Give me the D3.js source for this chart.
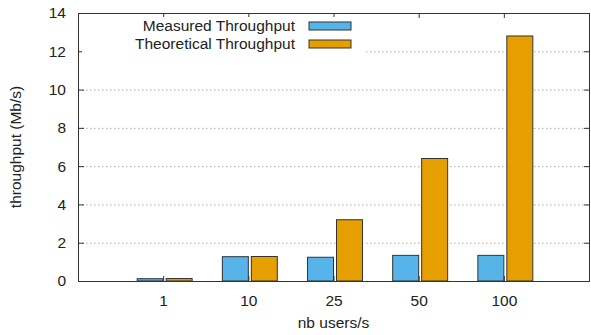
<!DOCTYPE html>
<html>
<head>
<meta charset="utf-8">
<script src="https://cdn.jsdelivr.net/npm/d3@7"></script>
<style>
  body { margin: 0; background: #fff; }
  text { font-family: "Liberation Sans", Arial, sans-serif; fill: #222; }
</style>
</head>
<body>
<div id="chart"></div>
<script>
// data
const categories = ['1', '10', '25', '50', '100'];
const measured = [0.12, 1.27, 1.24, 1.34, 1.34];
const theoretical = [0.128, 1.28, 3.2, 6.4, 12.8];
const seriesNames = ['Measured Throughput', 'Theoretical Throughput'];
const seriesColors = ['#56b4e9', '#e69f00'];
const yTicks = [0, 2, 4, 6, 8, 10, 12, 14];

const width = 591, height = 335;
const margin = {top: 13, right: 2, bottom: 54, left: 78};
const fontSize = 15.5;

const svg = d3.select('#chart').append('svg')
  .attr('width', width)
  .attr('height', height);

const plotW = width - margin.left - margin.right;
const plotH = height - margin.top - margin.bottom;

// categories sit at 1..5 on a 0..6 axis
const x = d3.scaleLinear().domain([0, categories.length + 1]).range([0, plotW]);
const y = d3.scaleLinear().domain([0, 14]).range([plotH, 0]);

const g = svg.append('g')
  .attr('transform', `translate(${margin.left},${margin.top})`);

// grid
g.append('g')
  .attr('class', 'grid')
  .call(d3.axisLeft(y).tickValues(yTicks.slice(1, -1)).tickSize(-plotW).tickFormat(''))
  .call(s => s.select('.domain').remove())
  .call(s => s.selectAll('line')
    .attr('stroke', '#aaa')
    .attr('stroke-dasharray', '1.5,2.5'));

// bars
const barW = x(0.305) - x(0);
const series = [measured, theoretical];
series.forEach((vals, si) => {
  g.append('g').selectAll('rect')
    .data(vals)
    .enter().append('rect')
    .attr('x', (d, i) => si === 0 ? x(i + 1) - barW : x(i + 1) + 3)
    .attr('y', d => y(d))
    .attr('width', barW)
    .attr('height', d => plotH - y(d))
    .attr('fill', seriesColors[si])
    .attr('stroke', '#333')
    .attr('stroke-width', 1);
});

// axes (ticks pointing inward, mirrored)
const catIdx = d3.range(1, categories.length + 1);
const xAxis = d3.axisBottom(x).tickValues(catIdx).tickSize(-5).tickPadding(14)
  .tickFormat(d => categories[d - 1]);
const yAxis = d3.axisLeft(y).tickValues(yTicks).tickSize(-6).tickPadding(12);

g.append('g')
  .attr('transform', `translate(0,${plotH})`)
  .call(xAxis)
  .call(s => s.selectAll('text').attr('font-size', fontSize));

g.append('g')
  .call(yAxis)
  .call(s => s.selectAll('text').attr('font-size', fontSize));

g.append('g')
  .call(d3.axisTop(x).tickValues(catIdx).tickSize(-5).tickFormat(''));

g.append('g')
  .attr('transform', `translate(${plotW},0)`)
  .call(d3.axisRight(y).tickValues(yTicks).tickSize(-5).tickFormat(''));

g.selectAll('.domain, .tick line').attr('stroke', '#333');
g.selectAll('.grid .tick line').attr('stroke', '#aaa');

g.selectAll('text').attr('font-family', null).style('fill', '#222');

// legend (opaque box)
const legend = g.append('g').attr('transform', 'translate(4,4)');
legend.append('rect')
  .attr('x', 0).attr('y', 0)
  .attr('width', 282).attr('height', 40)
  .attr('fill', '#fff');
seriesNames.forEach((name, i) => {
  const row = legend.append('g').attr('transform', `translate(0,${9 + i * 18})`);
  row.append('text')
    .attr('x', 213).attr('y', 0)
    .attr('dy', '0.35em')
    .attr('text-anchor', 'end')
    .attr('font-size', fontSize)
    .text(name);
  row.append('rect')
    .attr('x', 227).attr('y', -4)
    .attr('width', 42).attr('height', 8)
    .attr('fill', seriesColors[i])
    .attr('stroke', '#333');
});

// axis titles
svg.append('text')
  .attr('transform', `translate(21,${margin.top + plotH / 2}) rotate(-90)`)
  .attr('text-anchor', 'middle')
  .attr('font-size', fontSize)
  .text('throughput (Mb/s)');

svg.append('text')
  .attr('x', margin.left + plotW / 2)
  .attr('y', 328)
  .attr('text-anchor', 'middle')
  .attr('font-size', fontSize)
  .text('nb users/s');
</script>
</body>
</html>
